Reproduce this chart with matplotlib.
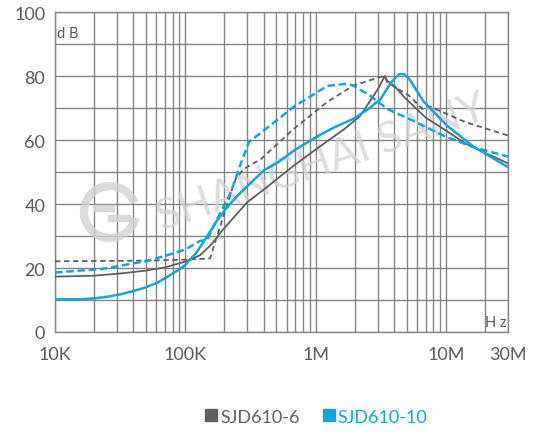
import matplotlib
matplotlib.use("Agg")
import matplotlib.pyplot as plt
from matplotlib.lines import Line2D
from matplotlib.patches import Arc, Rectangle

plt.rcParams['font.family'] = ['Lato', 'DejaVu Sans']

# frequency in kHz, attenuation in dB
gray_solid_khz = [10, 20, 32, 50, 70, 100, 130, 160, 190, 250, 300, 400, 676, 1000,
                  1660, 2200, 3020, 3400, 3550, 4000, 4900, 7000, 10000, 14000, 20000, 30000]
gray_solid_db = [17.3, 17.6, 18.3, 19.2, 20.2, 22, 24, 27.5, 31.5, 37, 40.6, 44.5, 51.9, 57,
                 63.4, 67.5, 76, 80, 78.5, 77, 73, 67, 63, 59, 56, 52.7]

gray_dash_khz = [10, 50, 100, 155, 204, 243, 282, 380, 676, 1230, 1950, 3020, 3400, 3550,
                 5250, 6600, 7400, 14100, 30000]
gray_dash_db = [22.1, 22.3, 22.6, 23, 38.4, 47.8, 51, 54, 63.4, 71.9, 77, 79.5, 80, 78,
                73.8, 69.7, 70.6, 65.6, 61.4]

blue_solid_khz = [10, 15, 20, 25, 32, 40, 50, 60, 70, 80, 90, 100, 120, 140, 170, 200, 250,
                  300, 400, 513, 700, 1050, 1400, 1950, 2500, 3160, 3800, 4370, 4790, 5250,
                  6760, 10200, 16200, 30000]
blue_solid_db = [10.2, 10.2, 10.5, 11.0, 11.8, 12.8, 14.0, 15.3, 16.8, 18.3, 19.5, 21, 24.5,
                 28.5, 34, 38, 42.5, 45.6, 50.5, 53, 57, 61.3, 64, 66.6, 69.5, 72.8, 78, 80.6,
                 80.6, 79, 72, 64.5, 58, 51.5]

blue_dash_khz = [10, 23, 51, 80, 100, 129, 148, 174, 224, 263, 309, 447, 676, 1230, 1660,
                 1950, 2630, 3550, 5620, 10000, 16200, 30000]
blue_dash_db = [18.6, 19.7, 22.2, 24.5, 25.8, 28.4, 29, 35, 43.7, 52, 59.4, 64.5, 70.3, 76.9,
                77.5, 77, 73.8, 69.7, 66, 61, 57.8, 54.8]

x_ticks_hz = [1e4, 1e5, 1e6, 1e7, 3e7]
x_tick_labels = ['10K', '100K', '1M', '10M', '30M']
y_ticks = [0, 20, 40, 60, 80, 100]

gray = '#5f5f5f'
blue = '#14a5dc'
grid_c = '#858585'
text_c = '#5a5a5a'
wm_c = '#d2d2d2'

fig = plt.figure(figsize=(5.35, 4.35), dpi=100)
ax = fig.add_axes([55 / 535, 102 / 435, 453 / 535, 320 / 435])

ax.set_xscale('log')
ax.set_xlim(1e4, 3e7)
ax.set_ylim(0, 100)

# grid
minor = []
for dec in [1e4, 1e5, 1e6]:
    minor += [dec * k for k in range(1, 10)]
minor += [1e7, 2e7, 3e7]
for v in minor:
    ax.axvline(v, color=grid_c, lw=1.0, zorder=1)
for v in range(0, 101, 10):
    ax.axhline(v, color=grid_c, lw=1.0, zorder=1)

# watermark
ax.text(0.59, 0.53, 'SHANGHAI SANY', transform=ax.transAxes, rotation=19,
        fontsize=31, color=wm_c, ha='center', va='center', zorder=2, alpha=0.75)
cx, cy = 110 / 535, (435 - 213) / 435
d = 52
fig.patches.append(Arc((cx, cy), d / 535, d / 435, theta1=25, theta2=345,
                       transform=fig.transFigure, color=wm_c, lw=6, alpha=0.8))
fig.patches.append(Rectangle((cx - 16 / 535, cy + 1 / 435), 20 / 535, 6 / 435,
                             transform=fig.transFigure, color=wm_c, alpha=0.8))
fig.patches.append(Rectangle((cx - 2 / 535, cy - 9 / 435), 22 / 535, 6 / 435,
                             transform=fig.transFigure, color=wm_c, alpha=0.8))

def khz(vals):
    return [v * 1e3 for v in vals]

ax.plot(khz(gray_solid_khz), gray_solid_db, color=gray, lw=1.3, zorder=3)
ax.plot(khz(gray_dash_khz), gray_dash_db, color=gray, lw=1.3, ls=(0, (3, 2)), zorder=3)
ax.plot(khz(blue_solid_khz), blue_solid_db, color=blue, lw=1.8, zorder=4)
ax.plot(khz(blue_dash_khz), blue_dash_db, color=blue, lw=1.8, ls=(0, (3, 1.5)), zorder=4)

for s in ax.spines.values():
    s.set_color(grid_c)
    s.set_linewidth(1.0)

ax.set_xticks(x_ticks_hz)
ax.set_xticklabels(x_tick_labels)
ax.set_xticks([], minor=True)
ax.set_yticks(y_ticks)
ax.tick_params(axis='both', length=0, labelsize=13, labelcolor=text_c)
ax.tick_params(axis='x', pad=10)
ax.tick_params(axis='y', pad=7)

ax.text(0.004, 0.955, 'd B', transform=ax.transAxes, fontsize=10.5, color=text_c,
        ha='left', va='top', zorder=5)
ax.text(0.998, 0.008, 'H z', transform=ax.transAxes, fontsize=10.5, color=text_c,
        ha='right', va='bottom', zorder=5)

handles = [Line2D([], [], marker='s', ls='', color=gray, markersize=9),
           Line2D([], [], marker='s', ls='', color=blue, markersize=9)]
leg = fig.legend(handles, ['SJD610-6', 'SJD610-10'], loc='center', bbox_to_anchor=(0.59, 0.04),
                 ncol=2, frameon=False, fontsize=13, handletextpad=0.1, columnspacing=1.2,
                 handlelength=0.8, labelcolor=[gray, blue])

fig.savefig('out.png', dpi=100)
